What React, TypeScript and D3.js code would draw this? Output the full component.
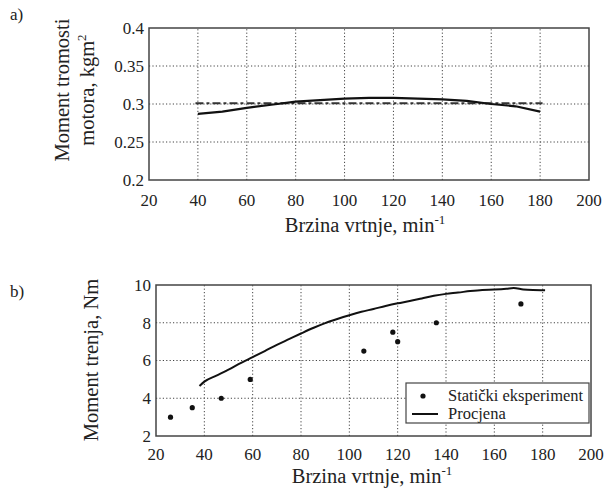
import React from "react";
import * as d3 from "d3";

// a) moment of inertia
const speedA = [40, 50, 60, 70, 80, 90, 100, 110, 120, 130, 140, 150, 160, 170, 180];
const inertiaEst = [0.287, 0.29, 0.295, 0.299, 0.303, 0.305, 0.307, 0.308, 0.308, 0.307, 0.306, 0.304, 0.3, 0.297, 0.29];
const inertiaRef = [[39, 0.301], [181, 0.301]];

// b) friction torque
const speedB = [38, 40, 45, 50, 55, 60, 65, 70, 75, 80, 85, 90, 95, 100, 105, 110, 115, 120, 125, 130, 135, 140, 145, 150, 155, 160, 165, 168, 172, 176, 181];
const frictionEst = [4.65, 4.88, 5.2, 5.52, 5.86, 6.18, 6.5, 6.83, 7.13, 7.43, 7.72, 7.98, 8.2, 8.4, 8.58, 8.73, 8.89, 9.03, 9.15, 9.29, 9.43, 9.53, 9.6, 9.68, 9.74, 9.76, 9.8, 9.84, 9.76, 9.73, 9.72];
const staticSpeed = [26, 35, 47, 59, 106, 118, 120, 136, 171];
const staticTorque = [3.0, 3.5, 4.0, 5.0, 6.5, 7.5, 7.0, 8.0, 9.0];

const xTicks = [20, 40, 60, 80, 100, 120, 140, 160, 180, 200];
const yTicksA = [0.2, 0.25, 0.3, 0.35, 0.4];
const yTicksB = [2, 4, 6, 8, 10];

const font = "Liberation Serif, Tinos, Times New Roman, Times, DejaVu Serif, serif";
const ink = "#222";

function Grid({ x, y, xt, yt }: any) {
  const [x0, x1] = x.range();
  const [y0, y1] = y.range();
  return (
    <g stroke="#444" strokeWidth={1} strokeDasharray="1.2,2.2">
      {xt.slice(1, -1).map((t: number) => (
        <line key={"x" + t} x1={x(t)} x2={x(t)} y1={y0} y2={y1} />
      ))}
      {yt.slice(1, -1).map((t: number) => (
        <line key={"y" + t} x1={x0} x2={x1} y1={y(t)} y2={y(t)} />
      ))}
    </g>
  );
}

function Ticks({ x, y, xt, yt, fmt, xBase }: any) {
  const [x0] = x.range();
  return (
    <g fill={ink} style={{ fontFamily: font }} fontSize={17}>
      {xt.map((t: number) => (
        <text key={"x" + t} x={x(t)} y={xBase} textAnchor="middle">{t}</text>
      ))}
      {yt.map((t: number) => (
        <text key={"y" + t} x={x0 - 5} y={y(t)} dy="0.35em" textAnchor="end">{fmt(t)}</text>
      ))}
    </g>
  );
}

export default function App() {
  const xa = d3.scaleLinear().domain([20, 200]).range([149, 589]);
  const ya = d3.scaleLinear().domain([0.2, 0.4]).range([180, 28]);
  const xb = d3.scaleLinear().domain([20, 200]).range([156, 591]);
  const yb = d3.scaleLinear().domain([2, 10]).range([436, 285]);

  const lineA = d3.line<number>().x((d, i) => xa(speedA[i])).y((d) => ya(d));
  const lineRef = d3.line<number[]>().x((d) => xa(d[0])).y((d) => ya(d[1]));
  const lineB = d3.line<number>().x((d, i) => xb(speedB[i])).y((d) => yb(d)).curve(d3.curveMonotoneX);

  const fmtA = (t: number) => (t === 0.2 || t === 0.3 || t === 0.4 ? t.toFixed(1) : String(t));
  const ts = { fontFamily: font };

  return (
    <svg width={605} height={491} style={{ position: "absolute", left: 0, top: 0, background: "#fff" }}>
      <rect width={605} height={491} fill="#fff" />
      {/* chart a */}
      <text x={10} y={20} style={ts} fontSize={17} fill={ink}>a)</text>
      <Grid x={xa} y={ya} xt={xTicks} yt={yTicksA} />
      <path d={lineRef(inertiaRef) || ""} fill="none" stroke="#333" strokeWidth={1.8} strokeDasharray="8,3,3,3" />
      <path d={lineA(inertiaEst) || ""} fill="none" stroke="#111" strokeWidth={2.2} />
      <rect x={149} y={28} width={440} height={152} fill="none" stroke="#444" strokeWidth={1.5} />
      <Ticks x={xa} y={ya} xt={xTicks} yt={yTicksA} fmt={fmtA} xBase={206} />
      <text transform="translate(69,90) rotate(-90)" textAnchor="middle" style={ts} fontSize={20.5} fill={ink}>
        Moment tromosti
      </text>
      <text transform="translate(94,90) rotate(-90)" textAnchor="middle" style={ts} fontSize={20.5} fill={ink}>
        motora, kgm<tspan dy="-8" fontSize={13}>2</tspan>
      </text>
      <text x={365} y={232} textAnchor="middle" style={ts} fontSize={20.5} fill={ink}>
        Brzina vrtnje, min<tspan dy="-8" fontSize={13}>-1</tspan>
      </text>

      {/* chart b */}
      <text x={10} y={297} style={ts} fontSize={17} fill={ink}>b)</text>
      <Grid x={xb} y={yb} xt={xTicks} yt={yTicksB} />
      <path d={lineB(frictionEst) || ""} fill="none" stroke="#111" strokeWidth={2} />
      {staticSpeed.map((s, i) => (
        <circle key={i} cx={xb(s)} cy={yb(staticTorque[i])} r={2.6} fill="#111" />
      ))}
      <rect x={156} y={285} width={435} height={151} fill="none" stroke="#444" strokeWidth={1.5} />
      <Ticks x={xb} y={yb} xt={xTicks} yt={yTicksB} fmt={(t: number) => String(t)} xBase={460} />
      <text transform="translate(98,360) rotate(-90)" textAnchor="middle" style={ts} fontSize={20.5} fill={ink}>
        Moment trenja, Nm
      </text>
      <text x={372} y={483} textAnchor="middle" style={ts} fontSize={20.5} fill={ink}>
        Brzina vrtnje, min<tspan dy="-8" fontSize={13}>-1</tspan>
      </text>

      {/* legend */}
      <rect x={406} y={383} width={183} height={40} fill="#fff" stroke="#444" strokeWidth={1.2} />
      <circle cx={423} cy={396} r={2.6} fill="#111" />
      <text x={448} y={401} style={ts} fontSize={16.5} fill={ink}>Statički eksperiment</text>
      <line x1={412} x2={438} y1={414} y2={414} stroke="#111" strokeWidth={2} />
      <text x={448} y={419} style={ts} fontSize={16.5} fill={ink}>Procjena</text>
    </svg>
  );
}
